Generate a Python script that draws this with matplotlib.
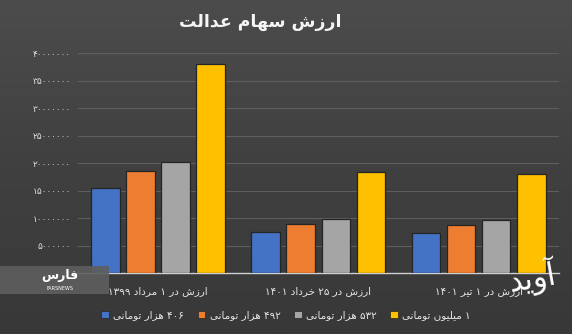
import numpy as np
import matplotlib.pyplot as plt
from matplotlib.patches import Patch, Rectangle

# values (toman)
categories = ["ارزش در ۱ مرداد ۱۳۹۹", "ارزش در ۲۵ خرداد ۱۴۰۱", "ارزش در ۱ تیر ۱۴۰۱"]
series_names = ["۴۰۶ هزار تومانی", "۴۹۲ هزار تومانی", "۵۳۲ هزار تومانی", "۱ میلیون تومانی"]
v406 = [15500000, 7450000, 7250000]
v492 = [18650000, 9000000, 8850000]
v532 = [20300000, 9800000, 9600000]
v1m = [38000000, 18500000, 18000000]
yticks = [5000000, 10000000, 15000000, 20000000, 25000000, 30000000, 35000000, 40000000]
title = "ارزش سهام عدالت"

colors = ["#4472c4", "#ed7d31", "#a5a5a5", "#ffc000"]

# --- minimal persian shaping (matplotlib has no bidi / joining) ---
# letter: (isolated, final, initial, medial); None -> does not join to next
FORMS = {
    "ا": ("\ufe8d", "\ufe8e", None, None),
    "آ": ("\ufe81", "\ufe82", None, None),
    "ت": ("\ufe95", "\ufe96", "\ufe97", "\ufe98"),
    "خ": ("\ufea5", "\ufea6", "\ufea7", "\ufea8"),
    "د": ("\ufea9", "\ufeaa", None, None),
    "ر": ("\ufead", "\ufeae", None, None),
    "ز": ("\ufeaf", "\ufeb0", None, None),
    "س": ("\ufeb1", "\ufeb2", "\ufeb3", "\ufeb4"),
    "ش": ("\ufeb5", "\ufeb6", "\ufeb7", "\ufeb8"),
    "ع": ("\ufec9", "\ufeca", "\ufecb", "\ufecc"),
    "ف": ("\ufed1", "\ufed2", "\ufed3", "\ufed4"),
    "ل": ("\ufedd", "\ufede", "\ufedf", "\ufee0"),
    "م": ("\ufee1", "\ufee2", "\ufee3", "\ufee4"),
    "ن": ("\ufee5", "\ufee6", "\ufee7", "\ufee8"),
    "ه": ("\ufee9", "\ufeea", "\ufeeb", "\ufeec"),
    "و": ("\ufeed", "\ufeee", None, None),
    "ی": ("\ufeef", "\ufef0", "\ufef3", "\ufef4"),
}


def shape_word(w):
    out = []
    for i, ch in enumerate(w):
        if ch not in FORMS:
            out.append(ch)
            continue
        prev = w[i - 1] if i > 0 else None
        nxt = w[i + 1] if i + 1 < len(w) else None
        joins_prev = prev in FORMS and FORMS[prev][2] is not None
        joins_next = nxt in FORMS and FORMS[ch][2] is not None
        iso, fin, ini, med = FORMS[ch]
        if joins_prev and joins_next:
            out.append(med)
        elif joins_prev:
            out.append(fin)
        elif joins_next:
            out.append(ini)
        else:
            out.append(iso)
    return "".join(out)


def fa(text):
    words = text.split(" ")
    vis = []
    for w in reversed(words):
        if w and w[0] in FORMS:
            vis.append(shape_word(w)[::-1])
        else:
            vis.append(w)
    return " ".join(vis)


def fa_num(n):
    return str(n).translate(str.maketrans("0123456789", "۰۱۲۳۴۵۶۷۸۹"))


plt.rcParams['font.family'] = ['DejaVu Sans']

fig = plt.figure(figsize=(5.72, 3.34), dpi=100)
fig.patch.set_facecolor("#3d3d3d")

# background gradient
bg = fig.add_axes([0, 0, 1, 1], zorder=-10)
grad = np.linspace(0, 1, 256).reshape(-1, 1)
bg.imshow(grad, aspect="auto", cmap=plt.cm.colors.LinearSegmentedColormap.from_list(
    "bg", ["#4c4c4c", "#404040", "#383838"]), extent=[0, 1, 0, 1])
bg.set_axis_off()

ax = fig.add_axes([0.136, 0.182, 0.841, 0.658])
ax.set_facecolor("none")

x = np.arange(len(categories))
width = 0.178
pitch = 0.219
all_series = [v406, v492, v532, v1m]
for k, vals in enumerate(all_series):
    ax.bar(x + (k - 1.5) * pitch, vals, width, color=colors[k],
           edgecolor="#252525", linewidth=0.9, zorder=3, label=fa(series_names[k]))

ax.set_xlim(-0.5, len(categories) - 0.5)
ax.set_ylim(0, 40000000)
ax.set_yticks(yticks)
ax.set_yticklabels([fa_num(t) for t in yticks], color="#e0e0e0", fontsize=6.5)
ax.set_xticks(x)
ax.set_xticklabels([fa(c) for c in categories], color="#e6e6e6", fontsize=7.5)
ax.tick_params(axis="both", length=0)
ax.tick_params(axis="y", pad=5)
ax.tick_params(axis="x", pad=9)
ax.grid(axis="y", color="#5e5e5e", linewidth=0.8, zorder=0)
for s in ["top", "right", "left"]:
    ax.spines[s].set_visible(False)
ax.spines["bottom"].set_color("#d0d0d0")
ax.spines["bottom"].set_linewidth(1.0)

handles = [Patch(facecolor=colors[k], edgecolor="#252525", linewidth=0.5)
           for k in range(4)]
leg = fig.legend(handles, [fa(n) for n in series_names], loc="center",
                 bbox_to_anchor=(0.5, 0.057), ncol=4, frameon=False,
                 fontsize=7.5, handlelength=0.75, handleheight=0.75,
                 handletextpad=0.4, columnspacing=1.3)
for t in leg.get_texts():
    t.set_color("#e6e6e6")

fig.text(0.455, 0.933, fa(title), ha="center", va="center", fontsize=12.5,
         fontweight="bold", color="#f5f5f5")

# fars news badge (bottom left)
fig.patches.append(Rectangle((0, 0.12), 0.19, 0.085, transform=fig.transFigure,
                             facecolor="#5e5e5e", edgecolor="none", alpha=0.9, zorder=5))
fig.text(0.105, 0.175, fa("فارس"), ha="center", va="center", fontsize=9,
         fontweight="bold", color="white", zorder=6)
fig.text(0.105, 0.137, "FARSNEWS", ha="center", va="center", fontsize=3.5,
         color="white", zorder=6)

# aavid watermark (bottom right)
fig.text(0.93, 0.17, fa("آوید"), ha="center", va="center", fontsize=22,
         color="white", rotation=10, zorder=6)

fig.savefig("out.png", dpi=100, facecolor=fig.get_facecolor())
